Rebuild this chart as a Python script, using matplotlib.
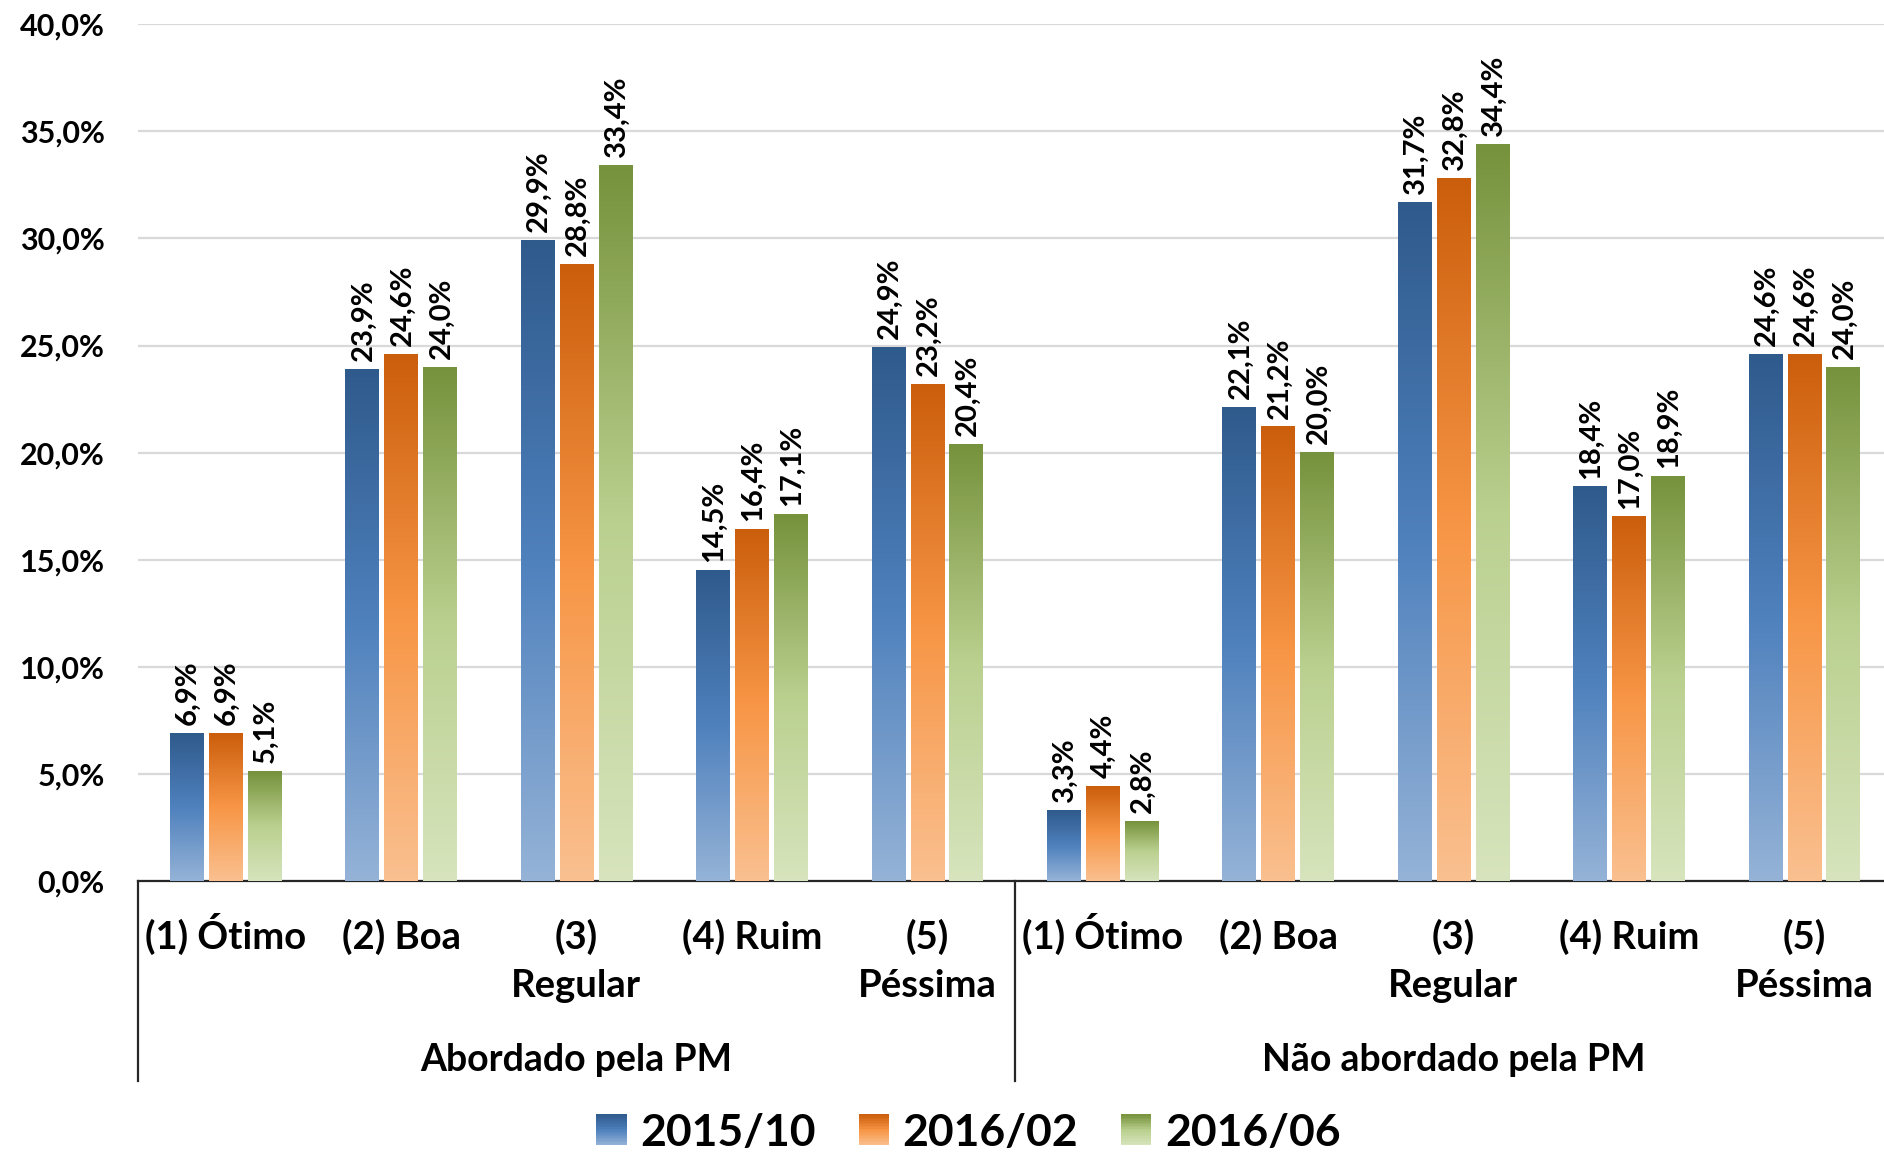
import numpy as np
import matplotlib
matplotlib.use('Agg')
import matplotlib.pyplot as plt
from matplotlib.colors import LinearSegmentedColormap
from matplotlib.patches import Rectangle
from matplotlib.legend_handler import HandlerBase

plt.rcParams['font.family'] = ['Lato', 'DejaVu Sans']
plt.rcParams['font.weight'] = 'bold'

SERIES = ['2015/10', '2016/02', '2016/06']
CATEGORIES = ['(1) Ótimo', '(2) Boa', '(3)\nRegular', '(4) Ruim', '(5)\nPéssima']
GROUPS = ['Abordado pela PM', 'Não abordado pela PM']

# values in %, 5 categories for "Abordado" then 5 for "Não abordado"
v_2015_10 = [6.9, 23.9, 29.9, 14.5, 24.9, 3.3, 22.1, 31.7, 18.4, 24.6]
v_2016_02 = [6.9, 24.6, 28.8, 16.4, 23.2, 4.4, 21.2, 32.8, 17.0, 24.6]
v_2016_06 = [5.1, 24.0, 33.4, 17.1, 20.4, 2.8, 20.0, 34.4, 18.9, 24.0]

Y_TICKS = [0, 5, 10, 15, 20, 25, 30, 35, 40]

# gradient stops: top, middle, bottom
GRADIENTS = [
    ['#2F5A8C', '#4F81BD', '#95B3D7'],
    ['#CB5E0C', '#F79646', '#FAC090'],
    ['#76923C', '#BAD08F', '#D7E4BD'],
]

BAR_W = 0.19
OFFSETS = [-0.222, 0.0, 0.222]


def make_cmap(stops):
    # index 0 = bottom, 1 = top
    return LinearSegmentedColormap.from_list('g', [(0, stops[2]), (0.5, stops[1]), (1, stops[0])])


class GradientHandler(HandlerBase):
    def __init__(self, stops):
        super().__init__()
        self.cmap = make_cmap(stops)

    def create_artists(self, legend, orig_handle, xdescent, ydescent, width, height, fontsize, trans):
        n = 20
        side = height * 0.98
        x0 = -xdescent + (width - side) / 2
        y0 = -ydescent + (height - side) / 2
        arts = []
        for k in range(n):
            r = Rectangle((x0, y0 + side * k / n), side, side / n + 0.3,
                          facecolor=self.cmap((k + 0.5) / n), edgecolor='none', transform=trans)
            arts.append(r)
        return arts


fig = plt.figure(figsize=(18.84, 11.57), dpi=100)
ax = fig.add_axes([0.0732, 0.2386, 1.0042 - 0.0732, 0.979 - 0.2386])

all_vals = [v_2015_10, v_2016_02, v_2016_06]
x = np.arange(len(v_2015_10)) + 0.5
grad = np.linspace(0, 1, 256).reshape(-1, 1)

for s, vals in enumerate(all_vals):
    cmap = make_cmap(GRADIENTS[s])
    for xi, v in zip(x, vals):
        x0 = xi + OFFSETS[s] - BAR_W / 2
        ax.imshow(grad, cmap=cmap, extent=[x0, x0 + BAR_W, 0, v], origin='lower',
                  aspect='auto', zorder=3, interpolation='bilinear')
        ax.annotate(('%.1f' % v).replace('.', ',') + '%', (xi + OFFSETS[s], v),
                    xytext=(1, 6), textcoords='offset points', rotation=90,
                    ha='center', va='bottom', fontsize=21, fontweight='bold', zorder=4)

ax.set_xlim(0, 10)
ax.set_ylim(0, 40)
ax.set_yticks(Y_TICKS)
ax.set_yticklabels([('%.1f' % t).replace('.', ',') + '%' for t in Y_TICKS],
                   fontsize=22, fontweight='bold')
ax.tick_params(axis='y', length=0, pad=24)
ax.set_xticks([])
ax.yaxis.grid(True, color='#D9D9D9', linewidth=1.6)
ax.set_axisbelow(True)

for sp in ['top', 'right', 'left']:
    ax.spines[sp].set_visible(False)
ax.spines['bottom'].set_color('#262626')
ax.spines['bottom'].set_linewidth(1.6)

# category labels, one text per line so baselines line up
xt = ax.get_xaxis_transform()
for i, xi in enumerate(x):
    for j, line in enumerate(CATEGORIES[i % 5].split('\n')):
        ax.text(xi, -0.0795 - 0.0565 * j, line, transform=xt,
                ha='center', va='baseline', fontsize=27.5, fontweight='bold')

# group labels and separators
for g, name in enumerate(GROUPS):
    ax.text(2.5 + 5 * g, -0.209, name, transform=xt,
            ha='center', va='center', fontsize=27, fontweight='bold')
for xs in [0, 5, 10]:
    ax.plot([xs, xs], [0, -0.233], transform=xt,
            color='#262626', linewidth=1.6, clip_on=False)

handles = [Rectangle((0, 0), 1, 1) for _ in SERIES]
fig.legend(handles, SERIES, loc='center', bbox_to_anchor=(0.514, 0.021), ncol=3,
           frameon=False, prop={'size': 32, 'weight': 'bold'},
           handler_map={h: GradientHandler(GRADIENTS[i]) for i, h in enumerate(handles)},
           handlelength=0.7, handletextpad=0.3, columnspacing=0.95)

fig.savefig('out.png', dpi=100)
